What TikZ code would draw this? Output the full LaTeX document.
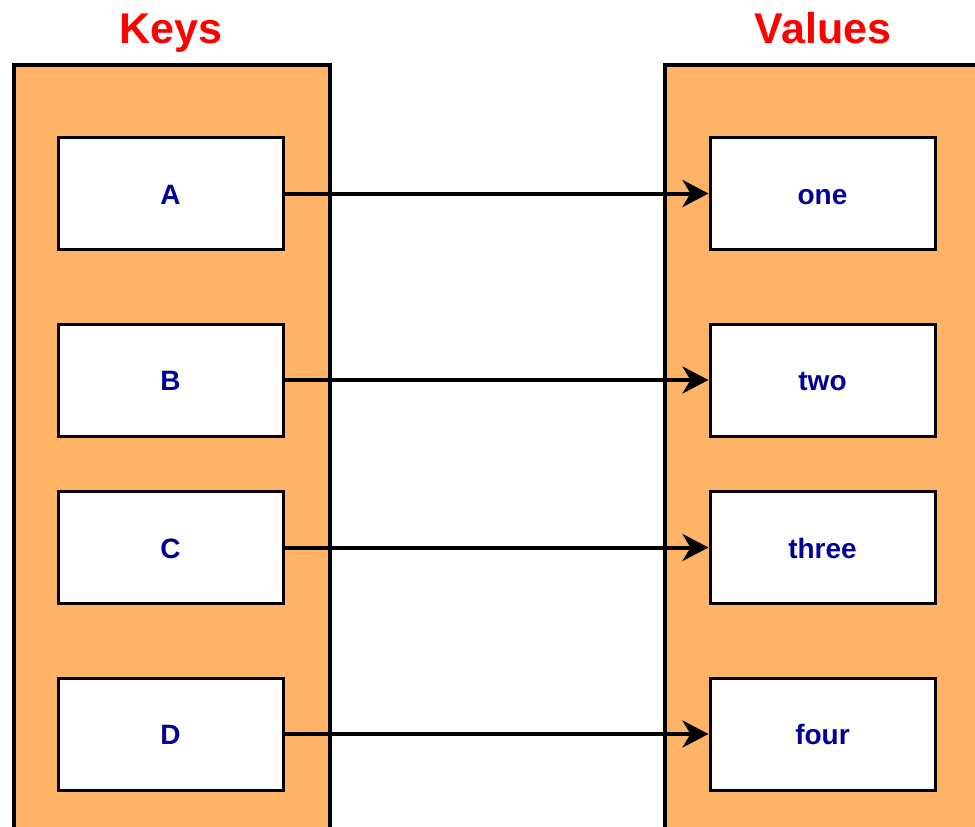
\documentclass[tikz,border=0pt]{standalone}
\usepackage{fontspec}
\setmainfont{Liberation Sans}
\usetikzlibrary{arrows.meta}
\definecolor{contfill}{HTML}{FFB366}
\definecolor{navy}{HTML}{000099}
\tikzset{
  x=1pt, y=-1pt,
  container/.style={draw=black, line width=4pt, fill=contfill},
  keybox/.style={draw=black, line width=3pt, fill=white, minimum width=225pt, minimum height=112pt, inner sep=0pt,
    text height=21pt, text depth=0pt,
    text=navy, font=\fontsize{28}{32}\selectfont\bfseries},
  title/.style={text=red, font=\fontsize{43}{48}\selectfont\bfseries, inner sep=0pt, anchor=base},
  link/.style={draw=black, line width=4pt, -{Stealth[length=26pt, width=27pt, inset=8pt]}}
}
\begin{document}
\begin{tikzpicture}
\useasboundingbox (0,0) rectangle (975,827);
\begin{scope}
\clip (0,0) rectangle (975,827);
\path[container] (14,65) rectangle (330,845);
\path[container] (665,65) rectangle (995,845);
\end{scope}
\node[title] (kt) at (171,43) {Keys};
\node[title] (vt) at (823,43) {Values};
\node[keybox] (A) at (170.5,193.5) {A};
\node[keybox] (B) at (170.5,380) {B};
\node[keybox] (C) at (170.5,547.5) {C};
\node[keybox] (D) at (170.5,734) {D};
\node[keybox] (one) at (822.5,193.5) {one};
\node[keybox] (two) at (822.5,380) {two};
\node[keybox] (three) at (822.5,547.5) {three};
\node[keybox] (four) at (822.5,734) {four};
\draw[link] (A.east) -- (one.west);
\draw[link] (B.east) -- (two.west);
\draw[link] (C.east) -- (three.west);
\draw[link] (D.east) -- (four.west);
\end{tikzpicture}
\end{document}
